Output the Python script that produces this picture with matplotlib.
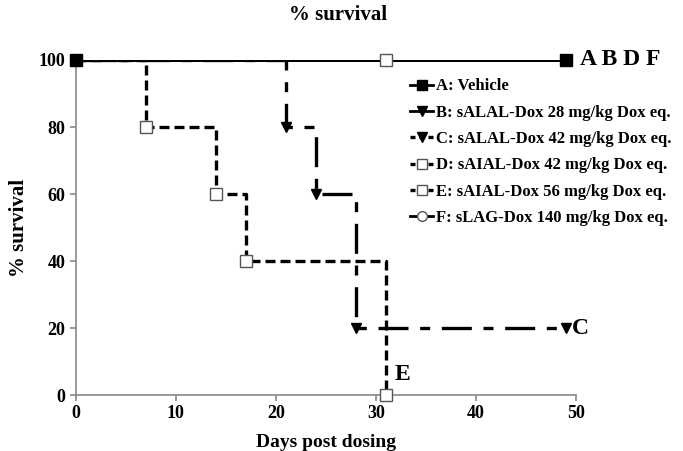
import numpy as np
import matplotlib
matplotlib.use('Agg')
import matplotlib.pyplot as plt
from matplotlib.lines import Line2D

plt.rcParams['font.family'] = ['Liberation Serif', 'DejaVu Serif']
plt.rcParams['font.weight'] = 'bold'

# Kaplan-Meier style data
a_days = [0, 49]
a_surv = [100, 100]
b_days = [0, 49]
b_surv = [100, 100]
c_days = [0, 21, 24, 28, 49]
c_surv = [100, 80, 60, 20, 20]
d_days = [0, 31]
d_surv = [100, 100]
e_days = [0, 7, 14, 17, 31]
e_surv = [100, 80, 60, 40, 0]
f_days = [0, 49]
f_surv = [100, 100]

labels = ['A: Vehicle',
          'B: sALAL-Dox 28 mg/kg Dox eq.',
          'C: sALAL-Dox 42 mg/kg Dox eq.',
          'D: sAIAL-Dox 42 mg/kg Dox eq.',
          'E: sAIAL-Dox 56 mg/kg Dox eq.',
          'F: sLAG-Dox 140 mg/kg Dox eq.']

fig = plt.figure(figsize=(6.83, 4.51), dpi=100)
ax = fig.add_axes([0.111, 0.124, 0.732, 0.743])

dash_c = (0, (9, 3.5, 3, 3.5))
dash_e = (0, (3, 1.5))

ax.step(b_days, b_surv, where='post', color='k', lw=2, zorder=2)
ax.step(f_days, f_surv, where='post', color='k', lw=2, zorder=2)
ax.step(c_days, c_surv, where='post', color='k', lw=2.4, linestyle=dash_c, zorder=3)
ax.plot(c_days[1:], c_surv[1:], 'v', color='k', ms=7, zorder=4)
ax.step(e_days, e_surv, where='post', color='k', lw=2.4, linestyle=dash_e, zorder=3)
ax.plot(e_days[1:], e_surv[1:], 's', mfc='white', mec='#555555', mew=1, ms=9, zorder=5, clip_on=False)
ax.plot(d_days[1:], d_surv[1:], 's', mfc='white', mec='#555555', mew=1, ms=9, zorder=5, clip_on=False)
ax.plot(a_days, a_surv, '-', color='k', lw=1.8, zorder=4)
ax.plot(a_days, a_surv, 's', color='k', ms=9, zorder=6, clip_on=False)

ax.text(50.4, 100, 'A B D F', fontsize=17, fontweight='bold', va='center', ha='left')
ax.text(49.6, 20, 'C', fontsize=17, fontweight='bold', va='center', ha='left')
ax.text(31.9, 6, 'E', fontsize=17, fontweight='bold', va='center', ha='left')

hdash = (0, (1.5, 1.2))
handles = [
    Line2D([], [], color='k', lw=2, marker='s', ms=7),
    Line2D([], [], color='k', lw=2, marker='v', ms=7),
    Line2D([], [], color='k', lw=2.4, linestyle=hdash, marker='v', ms=7),
    Line2D([], [], color='k', lw=2.4, linestyle=hdash, marker='s', mfc='white', mec='#555555', ms=7),
    Line2D([], [], color='k', lw=2.4, linestyle=hdash, marker='s', mfc='white', mec='#555555', ms=7),
    Line2D([], [], color='k', lw=2, marker='o', mfc='white', mec='#555555', ms=7),
]
leg = ax.legend(handles, labels, loc='upper left', bbox_to_anchor=(0.655, 0.965),
                frameon=False, fontsize=12, handlelength=1.4, handletextpad=0.15,
                labelspacing=0.62, borderaxespad=0)
for t in leg.get_texts():
    t.set_fontweight('bold')

ax.set_xlim(0, 50)
ax.set_ylim(0, 100)
ax.set_xticks([0, 10, 20, 30, 40, 50])
ax.set_yticks([0, 20, 40, 60, 80, 100])
for s in ['top', 'right']:
    ax.spines[s].set_visible(False)
for s in ['left', 'bottom']:
    ax.spines[s].set_color('#888888')
    ax.spines[s].set_linewidth(1.2)
ax.tick_params(colors='#888888', length=4, width=1.2, labelsize=13, labelcolor='k')
for lab in ax.get_xticklabels() + ax.get_yticklabels():
    lab.set_fontweight('bold')

ax.set_xlabel('Days post dosing', fontsize=14, fontweight='bold', labelpad=8)
ax.set_ylabel('% survival', fontsize=15, fontweight='bold', labelpad=7)
fig.suptitle('% survival', x=0.495, y=0.99, fontsize=15, fontweight='bold')

plt.savefig('out.png', dpi=100)
